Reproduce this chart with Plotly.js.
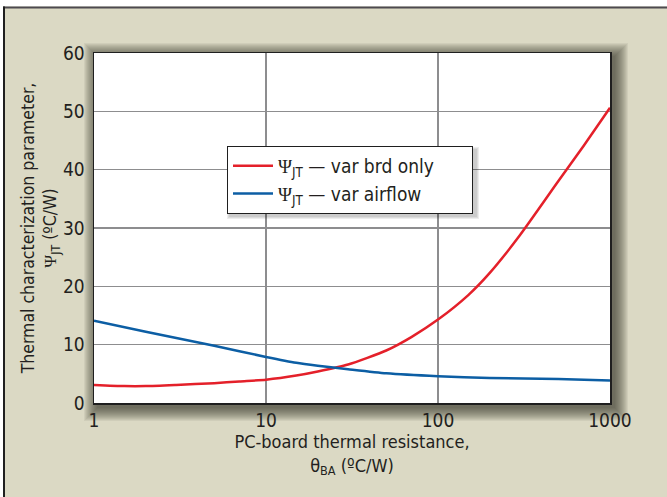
<!DOCTYPE html>
<html>
<head>
<meta charset="utf-8">
<script src="https://cdn.plot.ly/plotly-3.0.1.min.js"></script>
<style>html,body{margin:0;padding:0;background:#dbd9c4;}#chart{width:667px;height:497px;}</style>
</head>
<body>
<div id="chart"></div>
<script>
// Data
const brdX = [1, 1.5, 2, 3, 5, 7, 10, 15, 20, 30, 50, 70, 100, 150, 200, 300, 500, 700, 1000];
const brdY = [3.1, 2.9, 2.9, 3.1, 3.4, 3.7, 4.0, 4.7, 5.4, 6.6, 9.0, 11.3, 14.3, 18.5, 22.3, 28.8, 38.0, 44.0, 50.6];
const airX = [1, 2, 5, 10, 15, 20, 30, 50, 100, 200, 500, 1000];
const airY = [14.1, 12.2, 9.8, 7.9, 6.9, 6.4, 5.8, 5.1, 4.6, 4.3, 4.1, 3.85];
const seriesNames = [
  '<span style="font-family:Liberation Serif">Ψ</span><sub>JT</sub> — var brd only\u00A0\u00A0\u00A0\u00A0\u00A0\u00A0',
  '<span style="font-family:Liberation Serif">Ψ</span><sub>JT</sub> — var airflow'
];
const xTickVals = [1, 10, 100, 1000];
const xTickText = ['1', '10', '100', '1000'];

const FONT = '"DejaVu Sans Condensed", "Liberation Sans", Arial, sans-serif';
const INK = '#231f20';

// plot geometry in pixels (for decorative shapes)
const L = 94, T = 53, W = 516, H = 350;
const px = v => (v - L) / W;
const py = v => (T + H - v) / H;

const shapes = [];
// plot-area drop shadow (stacked soft rectangles)
for (let k = 14; k >= 1; k--) {
  const dx = 4, dy = 4;
  shapes.push({type: 'rect', xref: 'paper', yref: 'paper', layer: 'below',
    x0: (dx - k) / W, x1: 1 + (dx + k) / W, y0: -(dy + k) / H, y1: 1 + (k - dy) / H,
    fillcolor: 'rgba(60,55,40,0.07)', line: {width: 0}});
}
// white plot background on top of shadow
shapes.push({type: 'rect', xref: 'paper', yref: 'paper', layer: 'below',
  x0: 0, x1: 1, y0: 0, y1: 1, fillcolor: '#ffffff', line: {width: 0}});
// outer frame: white strip top & left, dark border lines
shapes.push({type: 'rect', xref: 'paper', yref: 'paper', layer: 'below',
  x0: px(0), x1: px(667), y0: py(6.5), y1: py(0), fillcolor: '#ffffff', line: {width: 0}});
shapes.push({type: 'rect', xref: 'paper', yref: 'paper', layer: 'below',
  x0: px(0), x1: px(3), y0: py(497), y1: py(0), fillcolor: '#ffffff', line: {width: 0}});
shapes.push({type: 'line', xref: 'paper', yref: 'paper', layer: 'below',
  x0: px(3), x1: px(667), y0: py(7.5), y1: py(7.5), line: {color: '#4d4a4f', width: 2}});
shapes.push({type: 'line', xref: 'paper', yref: 'paper', layer: 'below',
  x0: px(4), x1: px(4), y0: py(497), y1: py(6.5), line: {color: '#1f1f1f', width: 2}});
// legend shadow
for (let k = 3; k >= 1; k--) {
  shapes.push({type: 'rect', xref: 'paper', yref: 'paper', layer: 'above',
    x0: px(227 + 3 - k), x1: px(474 + 2 + k), y0: py(214 + 2 + k), y1: py(147 + 3 - k),
    fillcolor: 'rgba(0,0,0,0.07)', line: {width: 0}});
}

const traces = [
  {x: brdX, y: brdY, name: seriesNames[0], type: 'scatter', mode: 'lines',
   line: {color: '#e4202a', width: 2.5, shape: 'spline', smoothing: 0.6}},
  {x: airX, y: airY, name: seriesNames[1], type: 'scatter', mode: 'lines',
   line: {color: '#0c5ea4', width: 2.5, shape: 'spline', smoothing: 0.6}}
];

const layout = {
  width: 667, height: 497,
  paper_bgcolor: '#dbd9c4',
  plot_bgcolor: 'rgba(0,0,0,0)',
  margin: {l: L, r: 667 - L - W, t: T, b: 497 - T - H},
  font: {family: FONT, color: INK, size: 18},
  showlegend: true,
  legend: {x: px(227), y: py(146), xanchor: 'left', yanchor: 'top',
    bgcolor: '#ffffff', bordercolor: '#1f1f1f', borderwidth: 1,
    font: {family: FONT, size: 19, color: INK}, itemwidth: 40, tracegroupgap: 0},
  xaxis: {type: 'log', range: [0, 3], tickvals: xTickVals, ticktext: xTickText,
    showgrid: true, gridcolor: '#8d8d8f', gridwidth: 1.5,
    showline: true, mirror: true, linecolor: '#1f1f1f', linewidth: 1.5,
    ticks: '', ticklabelstandoff: 0, zeroline: false,
    tickfont: {family: FONT, size: 19, color: INK},
    title: {text: 'PC-board thermal resistance,<br>θ<sub>BA</sub> (ºC/W)',
      font: {family: FONT, size: 18, color: INK}, standoff: 0}},
  yaxis: {range: [0, 60], dtick: 10,
    showgrid: true, gridcolor: '#8d8d8f', gridwidth: 1.5,
    showline: true, mirror: true, linecolor: '#1f1f1f', linewidth: 1.5,
    ticks: '', ticklabelstandoff: 4, zeroline: false,
    tickfont: {family: FONT, size: 19, color: INK},
    title: {text: 'Thermal characterization parameter,<br><span style="font-family:Liberation Serif">Ψ</span><sub>JT</sub> (ºC/W)',
      font: {family: FONT, size: 17.5, color: INK}, standoff: 0}},
  shapes: shapes
};

Plotly.newPlot('chart', traces, layout, {displayModeBar: false, staticPlot: true});
</script>
</body>
</html>
